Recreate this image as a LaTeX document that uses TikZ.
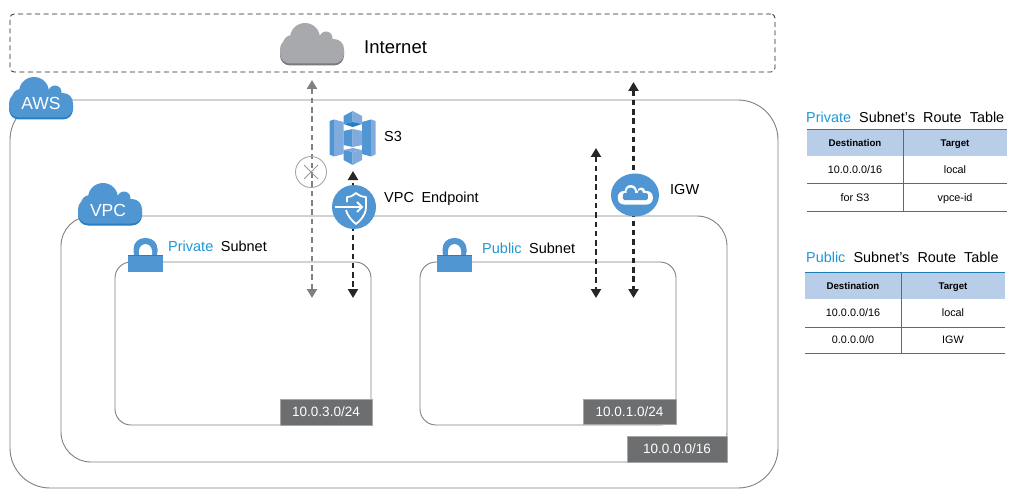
\documentclass[tikz,border=0pt]{standalone}
\usepackage{fontspec}
\usepackage{xcolor}
\usepackage{tikz}
\usetikzlibrary{arrows.meta,shapes.geometric}
\setmainfont{Liberation Sans}
\definecolor{awsblue}{RGB}{80,150,210}
\definecolor{awsdeep}{RGB}{40,125,195}
\definecolor{awspale}{RGB}{128,171,220}
\definecolor{skyblue}{RGB}{30,150,215}
\definecolor{cloudgray}{RGB}{167,169,172}
\definecolor{clouddark}{RGB}{120,122,125}
\definecolor{tagdark}{RGB}{109,110,112}
\definecolor{headfill}{RGB}{184,205,231}
\definecolor{rulecol}{RGB}{30,125,180}
\newcommand{\fs}[1]{\fontsize{#1}{#1}\selectfont}
\newcommand{\capfont}{\fs{14.5}\spaceskip 7.5pt\relax}
\newcommand{\titlefont}{\fs{14.4}\spaceskip 8.2pt\relax}

\begin{document}
\begin{tikzpicture}[x=1pt, y=-1pt,
  zone/.style={draw=black!50, line width=0.9pt, inner sep=0pt, outer sep=0pt},
  tag/.style={draw=black!35, line width=0.6pt, fill=tagdark, text=white, font=\fs{13.5}, inner sep=0pt, outer sep=0pt},
  caption/.style={font=\capfont, inner sep=0pt, anchor=west},
  tabletitle/.style={font=\titlefont, inner sep=0pt, anchor=west},
  cloudtext/.style={font=\fs{17.5}, text=white, inner sep=0pt},
  flow/.style={>={Triangle[length=9pt,width=10pt]}, line width=2.2pt, dash pattern=on 5.5pt off 3.8pt},
  headcell/.style={fill=headfill, font=\fs{9.7}\bfseries, text height=7pt, text depth=0pt, inner sep=0pt, outer sep=0pt},
  cell/.style={font=\fs{10.8}, text height=8pt, text depth=0.5pt, inner sep=0pt, outer sep=0pt},
  rule/.style={draw=rulecol, line width=0.9pt},
  pics/cloudicon/.style 2 args={code={
    \fill[#2, rounded corners=10pt] (-32,-2) rectangle (32,21.5);
    \fill[#1, rounded corners=10pt] (-32,-5) rectangle (32,19.5);
    \fill[#1] (-7,-6) circle (15);
    \fill[#1] (-20,0) circle (9);
    \fill[#1] (14,-6) circle (6.5);
  }},
  pics/gatewaycloud/.style={code={
    \fill[white, rounded corners=6pt] (-17.5,-4) rectangle (17.5,9.5);
    \fill[white] (-4.5,-4) circle (6);
    \fill[white] (6,-3.5) circle (4);
    \fill[awsblue, rounded corners=1.5pt] (-12.5,-2) rectangle (12.5,5);
    \fill[awsblue] (-4.5,-3) circle (4.5);
    \fill[awsblue] (5,-2.5) circle (2.5);
  }},
  pics/lockicon/.style={code={
    \fill[awsblue, rounded corners=11pt] (-12,-17) rectangle (12,8);
    \fill[white, rounded corners=7pt] (-6.5,-11) rectangle (6.5,8);
    \fill[awsblue] (-17.5,0) rectangle (17.5,17);
    \fill[awsdeep] (-17.5,0) rectangle (17.5,1);
  }},
]
\useasboundingbox (0,0) rectangle (1020,500);

% Internet
\node[zone, draw=black!85, line width=0.8pt, dash pattern=on 5pt off 3.5pt, rounded corners=4pt, minimum width=765pt, minimum height=58pt] (inet) at (392.5,43) {};
\pic at (312,44) {cloudicon={cloudgray}{clouddark}};
\node[caption, font=\fs{18.5}] (inetlabel) at (364,47) {Internet};

% Zones
\node[zone, rounded corners=40pt, minimum width=768pt, minimum height=388pt] (aws) at (394,294) {};
\node[zone, rounded corners=30pt, minimum width=666pt, minimum height=246pt] (vpc) at (394,339) {};
\node[zone, rounded corners=16pt, minimum width=256pt, minimum height=163pt] (private) at (243,343.5) {};
\node[zone, rounded corners=16pt, minimum width=256pt, minimum height=163pt] (public) at (548,343.5) {};

% Tags
\node[tag, minimum width=92pt, minimum height=26pt] (tagprivate) at (326,412) {10.0.3.0/24};
\node[tag, minimum width=93pt, minimum height=25pt] (tagpublic) at (629.5,411.5) {10.0.1.0/24};
\node[tag, minimum width=100pt, minimum height=26pt] (tagvpc) at (677,449) {10.0.0.0/16};

% Free ends
\coordinate (inetgray) at (312,80);
\coordinate (dropgray) at (312,298);
\coordinate (s3port) at (353,171);
\coordinate (epmid) at (353,207);
\coordinate (dropend) at (353,298);
\coordinate (pubtop) at (596,148);
\coordinate (pubdrop) at (596,298);
\coordinate (igwtop) at (633.5,82);
\coordinate (igwdrop) at (633.5,298);

% Flèches
\draw[flow, <->, black!50] (inetgray) -- (dropgray);
\draw[flow, <->, black!85] (pubtop) -- (pubdrop);
\draw[flow, <->, black!85] (igwtop) -- (igwdrop);
\draw[flow, ->, black!85] (epmid) -- (s3port);
\draw[flow, ->, black!85] (epmid) -- (dropend);

% Blocked path
\node[draw=black!35, line width=0.9pt, circle, minimum size=31pt, inner sep=0pt] (blocked) at (311,172) {};
\draw[black!40, line width=0.9pt] (304,165) -- (318,179) (318,165) -- (304,179);

% Clouds
\pic at (41,98) {cloudicon={awsblue}{awsdeep}};
\node[cloudtext] (awslabel) at (41,103) {AWS};
\pic at (110,204) {cloudicon={awsblue}{awsdeep}};
\node[cloudtext] (vpclabel) at (108,210) {VPC};

% Locks
\pic at (145.5,255) {lockicon};
\pic at (454.5,255) {lockicon};
\node[caption] (privatelabel) at (168,246) {\textcolor{skyblue}{Private} Subnet};
\node[caption] (publiclabel) at (482,248) {\textcolor{skyblue}{Public} Subnet};

% S3
\fill[awsblue] (329.5,121) -- (334,119.5) -- (334,156.5) -- (329.5,154.5) -- cycle;
\fill[awspale] (334,119.5) -- (343.5,122) -- (343.5,154) -- (334,156.5) -- cycle;
\fill[awsblue] (362,122) -- (371,119.5) -- (371,156.5) -- (362,154) -- cycle;
\fill[awspale] (371,119.5) -- (375.5,121) -- (375.5,154.5) -- (371,156.5) -- cycle;
\fill[awsblue] (343.5,116) -- (352.7,111) -- (352.7,122) -- (343.5,124) -- cycle;
\fill[awspale] (352.7,111) -- (362,116) -- (362,124) -- (352.7,122) -- cycle;
\fill[awsdeep] (343.5,124) -- (352.7,122) -- (362,124) -- (352.7,127) -- cycle;
\fill[awsblue] (343.5,131) -- (352.7,129) -- (352.7,147) -- (343.5,145) -- cycle;
\fill[awspale] (352.7,129) -- (362,131) -- (362,145) -- (352.7,147) -- cycle;
\fill[awspale] (343.5,150) -- (352.7,148) -- (362,150) -- (352.7,152) -- cycle;
\fill[awsblue] (343.5,150) -- (352.7,152) -- (352.7,165) -- (343.5,160) -- cycle;
\fill[awspale] (352.7,152) -- (362,150) -- (362,160) -- (352.7,165) -- cycle;
\node[caption] (s3label) at (384,137) {S3};

% VPC Endpoint
\node[circle, fill=awsblue, minimum size=44pt, inner sep=0pt] (endpoint) at (354,207) {};
\draw[white, line width=1.8pt, line join=round] (347,202) -- (347,197) .. controls (351,197) and (354,195) .. (356,193) .. controls (358,195) and (362,197) .. (366,197) -- (366,207) .. controls (366,215) and (360,221) .. (356,224) .. controls (352,221) and (347,215) .. (346,210);
\draw[awsblue, line width=4pt] (334,207) -- (360,207);
\draw[white, line width=1.8pt] (335,207) -- (362,207);
\draw[white, line width=1.8pt] (357,202) -- (362,207) -- (357,212);
\node[caption] (endpointlabel) at (384,199) {VPC Endpoint};

% IGW
\node[ellipse, fill=awsblue, minimum width=48pt, minimum height=43pt, inner sep=0pt] (igw) at (635,195) {};
\pic at (635.3,195) {gatewaycloud};
\node[caption] (igwlabel) at (670,190) {IGW};

% Private table
\node[tabletitle] (ptitle) at (806,117) {\textcolor{skyblue}{Private} Subnet's Route Table};
\node[headcell, minimum width=96pt, minimum height=27pt] (pdest) at (855,143) {Destination};
\node[headcell, minimum width=104pt, minimum height=27pt] (ptarget) at (955,143) {Target};
\node[cell, minimum width=96pt, minimum height=27pt] (pdestone) at (855,170) {10.0.0.0/16};
\node[cell, minimum width=104pt, minimum height=27pt] (ptargetone) at (955,170) {local};
\node[cell, minimum width=96pt, minimum height=28pt] (pdesttwo) at (855,197.5) {for S3};
\node[cell, minimum width=104pt, minimum height=28pt] (ptargettwo) at (955,197.5) {vpce-id};
\draw[rule] (pdest.north west) -- (ptarget.north east);
\draw[rule] (pdestone.south west) -- (ptargetone.south east);
\draw[rule] (pdesttwo.south west) -- (ptargettwo.south east);
\draw[rule] (pdest.north east) -- (pdesttwo.south east);

% Public table
\node[tabletitle] (ubtitle) at (806,257) {\textcolor{skyblue}{Public} Subnet's Route Table};
\node[headcell, minimum width=96pt, minimum height=27pt] (udest) at (853,285.5) {Destination};
\node[headcell, minimum width=104pt, minimum height=27pt] (utarget) at (953,285.5) {Target};
\node[cell, minimum width=96pt, minimum height=28pt] (udestone) at (853,313) {10.0.0.0/16};
\node[cell, minimum width=104pt, minimum height=28pt] (utargetone) at (953,313) {local};
\node[cell, minimum width=96pt, minimum height=26pt] (udesttwo) at (853,340) {0.0.0.0/0};
\node[cell, minimum width=104pt, minimum height=26pt] (utargettwo) at (953,340) {IGW};
\draw[rule] (udest.north west) -- (utarget.north east);
\draw[rule] (udestone.south west) -- (utargetone.south east);
\draw[rule] (udesttwo.south west) -- (utargettwo.south east);
\draw[rule] (udest.north east) -- (udesttwo.south east);

\end{tikzpicture}
\end{document}
